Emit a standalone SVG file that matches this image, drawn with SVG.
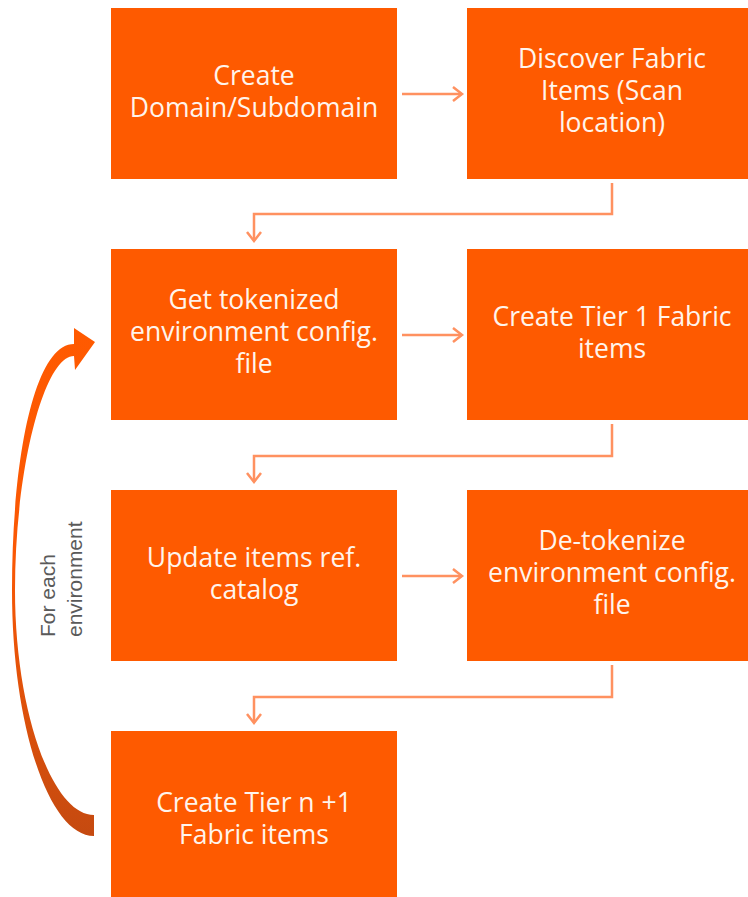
<svg xmlns="http://www.w3.org/2000/svg" width="748" height="897" viewBox="0 0 748 897">
  <style>
    .box { fill: #FE5A00; }
    .lbl { font-family: "Open Sans", "Noto Sans", sans-serif; font-size: 26.5px; fill: #FFF4EC; text-anchor: middle; }
    .conn { fill: none; stroke: #FF9160; stroke-width: 2.5; stroke-linejoin: miter; }
    .side { font-family: "Liberation Sans", Arial, sans-serif; font-size: 21px; fill: #5A5A5A; }
  </style>
  <defs>
    <marker id="arr" markerUnits="userSpaceOnUse" markerWidth="16" markerHeight="18" refX="13" refY="9" orient="auto">
      <path d="M4,2 L13,9 L4,16" fill="none" stroke="#FF9160" stroke-width="2.5"/>
    </marker>
    <linearGradient id="curveGrad" gradientUnits="userSpaceOnUse" x1="0" y1="330" x2="0" y2="836">
      <stop offset="0" stop-color="#FF5A00"/>
      <stop offset="0.45" stop-color="#FA5804"/>
      <stop offset="1" stop-color="#C54A10"/>
    </linearGradient>
  </defs>
  <rect width="748" height="897" fill="#FFFFFF"/>

  <g id="connectors">
    <line class="conn" x1="402" y1="94" x2="462" y2="94" marker-end="url(#arr)"/>
    <line class="conn" x1="402" y1="335" x2="462" y2="335" marker-end="url(#arr)"/>
    <line class="conn" x1="402" y1="576" x2="462" y2="576" marker-end="url(#arr)"/>
    <path class="conn" d="M612,183 V214 H254 V241" marker-end="url(#arr)"/>
    <path class="conn" d="M612,424 V456 H254 V482" marker-end="url(#arr)"/>
    <path class="conn" d="M612,665 V697 H254 V723" marker-end="url(#arr)"/>
  </g>

  <g id="loop">
    <path d="M94,836 C49,836 12,726 12,590 C12,460 34,344 74,344 L74,328 L95,342 L75,370 L74,356 C44,356 15,470 15,590 C15,710 52,815 94,815 Z" fill="url(#curveGrad)"/>
    <g transform="translate(0,637) rotate(-90)">
      <text class="side" x="0" y="55">For each</text>
      <text class="side" x="0" y="82">environment</text>
    </g>
  </g>

  <g id="n1">
    <rect class="box" x="111" y="8" width="286" height="171"/>
    <text class="lbl" x="254" y="85">Create</text>
    <text class="lbl" x="254" y="117">Domain/Subdomain</text>
  </g>
  <g id="n2">
    <rect class="box" x="467" y="8" width="290" height="171"/>
    <text class="lbl" x="612" y="68">Discover Fabric</text>
    <text class="lbl" x="612" y="100">Items (Scan</text>
    <text class="lbl" x="612" y="132">location)</text>
  </g>
  <g id="n3">
    <rect class="box" x="111" y="249" width="286" height="171"/>
    <text class="lbl" x="254" y="309">Get tokenized</text>
    <text class="lbl" x="254" y="341">environment config.</text>
    <text class="lbl" x="254" y="373">file</text>
  </g>
  <g id="n4">
    <rect class="box" x="467" y="249" width="290" height="171"/>
    <text class="lbl" x="612" y="326">Create Tier 1 Fabric</text>
    <text class="lbl" x="612" y="358">items</text>
  </g>
  <g id="n5">
    <rect class="box" x="111" y="490" width="286" height="171"/>
    <text class="lbl" x="254" y="567">Update items ref.</text>
    <text class="lbl" x="254" y="599">catalog</text>
  </g>
  <g id="n6">
    <rect class="box" x="467" y="490" width="290" height="171"/>
    <text class="lbl" x="612" y="550">De-tokenize</text>
    <text class="lbl" x="612" y="582">environment config.</text>
    <text class="lbl" x="612" y="614">file</text>
  </g>
  <g id="n7">
    <rect class="box" x="111" y="731" width="286" height="171"/>
    <text class="lbl" x="254" y="812">Create Tier n +1</text>
    <text class="lbl" x="254" y="844">Fabric items</text>
  </g>
</svg>
